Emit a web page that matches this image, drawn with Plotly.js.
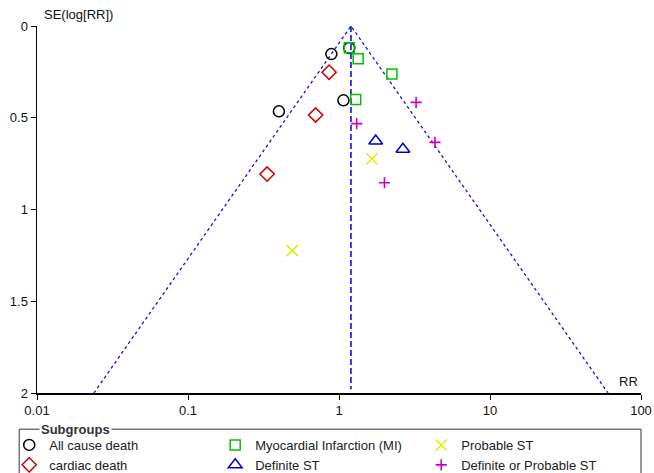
<!DOCTYPE html>
<html><head><meta charset="utf-8">
<script src="https://cdn.plot.ly/plotly-3.0.1.min.js"></script>
<style>html,body{margin:0;padding:0;background:#fff;}#chart{width:654px;height:473px;}</style>
</head><body><div id="chart"></div>
<script>
// Subgroup data: relative risk (RR) and standard error of log(RR)
const allCauseRR = [0.40, 0.89, 1.17, 1.07];
const allCauseSE = [0.465, 0.153, 0.12, 0.405];
const cardiacRR = [0.334, 0.70, 0.86];
const cardiacSE = [0.807, 0.485, 0.252];
const miRR = [1.17, 1.34, 2.24, 1.29];
const miSE = [0.118, 0.178, 0.262, 0.40];
const defSTRR = [1.75, 2.65];
const defSTSE = [0.627, 0.672];
const probSTRR = [1.65, 0.49];
const probSTSE = [0.723, 1.224];
const defProbRR = [3.24, 1.31, 4.32, 2.0];
const defProbSE = [0.416, 0.532, 0.634, 0.854];
// pooled estimate and funnel extent
const pooledRR = 1.2;
const maxSE = 2;
const xTicks = [0.01, 0.1, 1, 10, 100];
const xTickText = ['0.01', '0.1', '1', '10', '100'];
const yTicks = [0, 0.5, 1, 1.5, 2];
const yTickText = ['0', '0.5', '1', '1.5', '2'];

const lnP = Math.log(pooledRR);
const funnelX = [Math.exp(lnP - 1.96 * maxSE), pooledRR, Math.exp(lnP + 1.96 * maxSE)];
const funnelY = [maxSE, 0, maxSE];

const traces = [
  {x: funnelX, y: funnelY, mode: 'lines', line: {color: '#1010e0', width: 1.3, dash: '3px,3px'}, showlegend: false, hoverinfo: 'skip'},
  {x: [pooledRR, pooledRR], y: [0, maxSE * 0.99], mode: 'lines', line: {color: '#1010e0', width: 1.6, dash: '6px,3px'}, showlegend: false, hoverinfo: 'skip'},
  {name: 'All cause death', x: allCauseRR, y: allCauseSE, mode: 'markers', marker: {symbol: 'circle-open', size: 11, color: '#000', line: {width: 1.5, color: '#000'}}},
  {name: 'Myocardial Infarction (MI)', x: miRR, y: miSE, mode: 'markers', marker: {symbol: 'square-open', size: 10, color: '#00c000', line: {width: 1.5, color: '#00c000'}}},
  {name: 'Probable ST', x: probSTRR, y: probSTSE, mode: 'markers', marker: {symbol: 'x-thin-open', size: 11, color: '#e6e600', line: {width: 1.5, color: '#e6e600'}}},
  {name: 'cardiac death', x: cardiacRR, y: cardiacSE, mode: 'markers', marker: {symbol: 'diamond-open', size: 11, color: '#cc0000', line: {width: 1.5, color: '#cc0000'}}},
  {name: 'Definite ST', x: defSTRR, y: defSTSE, mode: 'markers', marker: {symbol: 'triangle-up-open', size: 12, color: '#0000cc', line: {width: 1.5, color: '#0000cc'}}},
  {name: 'Definite or Probable ST', x: defProbRR, y: defProbSE, mode: 'markers', marker: {symbol: 'cross-thin-open', size: 8, color: '#cc00cc', line: {width: 1.6, color: '#cc00cc'}}}
];

const layout = {
  width: 654, height: 473,
  margin: {l: 37, r: 13, t: 26, b: 80, autoexpand: false},
  paper_bgcolor: '#fff', plot_bgcolor: '#fff',
  font: {family: 'Liberation Sans, Arial, sans-serif', size: 13, color: '#111'},
  showlegend: true,
  xaxis: {type: 'log', range: [-2, 2], tickvals: xTicks, ticktext: xTickText, ticks: 'outside', ticklen: 5, tickcolor: '#000', showline: true, linecolor: '#000', linewidth: 1.5, showgrid: false, zeroline: false, tickfont: {size: 13}},
  yaxis: {range: [2, 0], tickvals: yTicks, ticktext: yTickText, ticks: 'outside', ticklen: 5, tickcolor: '#000', showline: true, linecolor: '#000', linewidth: 1.5, showgrid: false, zeroline: false, tickfont: {size: 13}},
  legend: {orientation: 'h', x: -0.046, xanchor: 'left', y: -0.1008, yanchor: 'top', entrywidth: 161, entrywidthmode: 'pixels', font: {size: 13, color: '#222'}, bgcolor: 'rgba(0,0,0,0)', itemclick: false},
  shapes: [
    {type: 'rect', xref: 'paper', yref: 'paper', x0: -0.0295, x1: 1.0, y0: -0.25, y1: -0.0986, line: {color: '#333', width: 1}, fillcolor: 'rgba(0,0,0,0)'}
  ],
  annotations: [
    {text: 'SE(log[RR])', xref: 'paper', yref: 'paper', x: 0.008, y: 1.0, xanchor: 'left', yanchor: 'bottom', yshift: 2, showarrow: false, font: {size: 13, color: '#111'}},
    {text: 'RR', xref: 'paper', yref: 'paper', x: 1.0, y: 0, xanchor: 'right', yanchor: 'bottom', xshift: -1, yshift: 2, showarrow: false, font: {size: 13, color: '#111'}},
    {text: '<b>Subgroups</b>', xref: 'paper', yref: 'paper', x: 0.003, y: -0.0986, xanchor: 'left', yanchor: 'middle', showarrow: false, bgcolor: '#fff', borderpad: 1, font: {size: 13, color: '#333'}}
  ]
};
Plotly.newPlot('chart', traces, layout, {displayModeBar: false, staticPlot: true});
</script>
</body></html>
